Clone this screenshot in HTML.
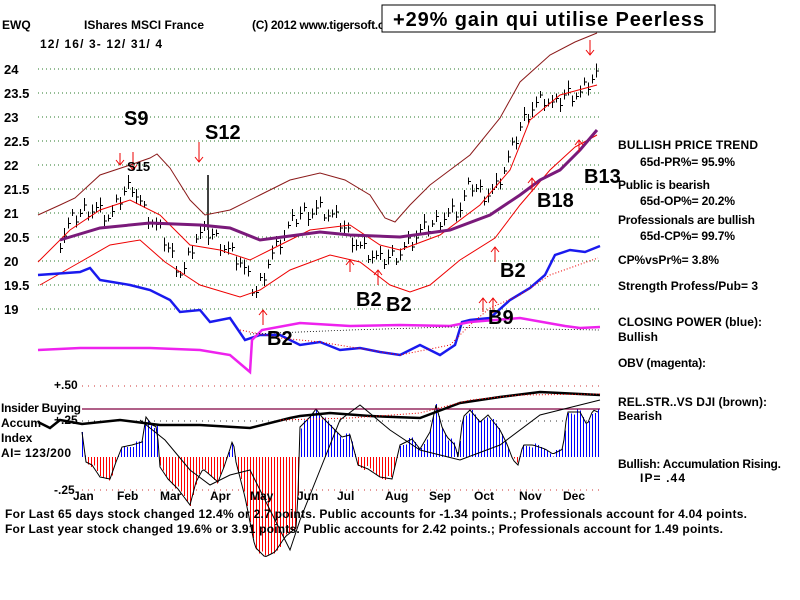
<!DOCTYPE html>
<html><head><meta charset="utf-8"><style>
body{margin:0;background:#fff;}
svg{display:block;font-family:"Liberation Sans",sans-serif;font-weight:bold;}
</style></head><body>
<svg id="s" width="800" height="600" viewBox="0 0 800 600" xmlns="http://www.w3.org/2000/svg">
<rect width="800" height="600" fill="#fff"/>
<g font-size="12" fill="#000">
<text x="2" y="29">EWQ</text>
<text x="84" y="29" textLength="120">IShares MSCI France</text>
<text x="252" y="29" textLength="150">(C) 2012 www.tigersoft.com</text>
<text x="40" y="48" textLength="122">12/ 16/ 3- 12/ 31/ 4</text>
</g>
<rect x="382" y="5" width="333" height="27" fill="#fff" stroke="#000" stroke-width="1"/>
<text x="393" y="26" font-size="20" fill="#000" textLength="311">+29% gain qui utilise Peerless</text>
<g id="grid" stroke="#2a7a2a" stroke-width="1" stroke-dasharray="1,3"></g>
<g font-size="13" fill="#000" id="ylab"></g>
<g id="plot"></g>
<g font-size="20" fill="#000">
<text x="124" y="125">S9</text><text x="205" y="139">S12</text>
<text x="127" y="171" font-size="13">S15</text>
<text x="356" y="306">B2</text><text x="386" y="311">B2</text>
<text x="267" y="345">B2</text><text x="488" y="324">B9</text>
<text x="500" y="277">B2</text><text x="537" y="207">B18</text><text x="584" y="183">B13</text>
</g>
<g font-size="12" fill="#000">
<text x="618" y="149" textLength="140">BULLISH PRICE TREND</text>
<text x="640" y="166" textLength="95">65d-PR%= 95.9%</text>
<text x="618" y="189" textLength="92">Public is bearish</text>
<text x="640" y="205" textLength="95">65d-OP%= 20.2%</text>
<text x="618" y="224" textLength="137">Professionals are bullish</text>
<text x="640" y="240" textLength="95">65d-CP%= 99.7%</text>
<text x="618" y="264" textLength="101">CP%vsPr%=  3.8%</text>
<text x="618" y="290" textLength="140">Strength Profess/Pub= 3</text>
<text x="618" y="326" textLength="144">CLOSING POWER (blue):</text>
<text x="618" y="341">Bullish</text>
<text x="618" y="367" textLength="88">OBV (magenta):</text>
<text x="618" y="406" textLength="149">REL.STR..VS DJI (brown):</text>
<text x="618" y="420">Bearish</text>
<text x="618" y="468" textLength="163">Bullish: Accumulation Rising.</text>
<text x="640" y="482" textLength="45">IP=  .44</text>
<text x="1" y="412" textLength="80">Insider Buying</text>
<text x="1" y="427">Accum</text>
<text x="1" y="442">Index</text>
<text x="1" y="457" textLength="70">AI= 123/200</text>
<text x="54" y="389">+.50</text>
<text x="54" y="424">+.25</text>
<text x="54" y="494">-.25</text>
<text x="5" y="518" textLength="742">For Last 65 days stock changed  12.4% or  2.7 points.  Public accounts for -1.34 points.;  Professionals account for  4.04 points.</text>
<text x="5" y="533" textLength="718">For Last year stock changed  19.6% or  3.91 points.  Public accounts for  2.42 points.;  Professionals account for  1.49 points.</text>
</g>
<g font-size="12" fill="#000" id="months"></g>
</svg>
<script>
var NS="http://www.w3.org/2000/svg",P=document.getElementById('plot');
function el(t,a,par){var e=document.createElementNS(NS,t);for(var k in a)e.setAttribute(k,a[k]);(par||P).appendChild(e);return e;}
function interp(pts,x){for(var i=0;i<pts.length-1;i++){if(x>=pts[i][0]&&x<=pts[i+1][0]){var t=(x-pts[i][0])/(pts[i+1][0]-pts[i][0]);return pts[i][1]+t*(pts[i+1][1]-pts[i][1]);}}return x<pts[0][0]?pts[0][1]:pts[pts.length-1][1];}
function line(pts,c,w,dash){var d="M"+pts.map(function(p){return p[0]+","+p[1]}).join("L");var a={d:d,fill:"none",stroke:c,"stroke-width":w};if(dash)a["stroke-dasharray"]=dash;el("path",a);}
var G=document.getElementById('grid'),YL=document.getElementById('ylab');
var labs=["24","23.5","23","22.5","22","21.5","21","20.5","20","19.5","19"];
for(var i=0;i<11;i++){var y=69+i*24;el("line",{x1:38,y1:y,x2:600,y2:y},G);var t=el("text",{x:4,y:y+5},YL);t.textContent=labs[i];}
el("line",{x1:82,y1:386,x2:600,y2:386,stroke:"#c33","stroke-dasharray":"1,5"},G);
el("line",{x1:82,y1:421,x2:600,y2:421,stroke:"#333","stroke-dasharray":"1,5"},G);
el("line",{x1:82,y1:490,x2:600,y2:490,stroke:"#c33","stroke-dasharray":"1,5"},G);
var M=[["Jan",73],["Feb",117],["Mar",160],["Apr",210],["May",250],["Jun",297],["Jul",337],["Aug",385],["Sep",429],["Oct",474],["Nov",519],["Dec",563]];
M.forEach(function(m){var t=el("text",{x:m[1],y:500},document.getElementById('months'));t.textContent=m[0];});
var H=[[82,25],[86,-5],[92,-8],[100,-20],[110,-22],[116,-5],[122,10],[132,12],[142,15],[146,40],[152,32],[157,30],[160,-10],[168,-22],[178,-32],[190,-48],[196,-25],[203,-12],[210,-18],[218,-25],[224,-10],[230,8],[233,18],[236,-5],[245,-40],[255,-90],[265,-100],[275,-95],[285,-80],[297,-70],[300,30],[310,40],[316,48],[322,40],[332,30],[342,20],[350,22],[358,-8],[368,-12],[380,-20],[392,-22],[400,12],[412,18],[420,8],[430,25],[436,52],[442,30],[447,20],[455,12],[458,0],[463,40],[470,47],[480,35],[488,42],[500,27],[507,13],[513,-3],[518,-8],[523,12],[533,12],[545,8],[553,3],[563,8],[567,45],[580,45],[587,32],[593,47],[598,45]];
for(var x=82;x<=599;x+=3){var v=interp(H,x)+((x*37)%7-3)*0.8;el("line",{x1:x+0.5,y1:457,x2:x+0.5,y2:457-v,stroke:v>=0?"#0000ff":"#ff0000","stroke-width":1,"shape-rendering":"crispEdges"});}
var hp=[];for(var x=82;x<=599;x+=2)hp.push([x,457-interp(H,x)]);line(hp,"#000",1);
el("line",{x1:82,y1:409,x2:600,y2:409,stroke:"#800040","stroke-width":1.2});
line([[38,422],[50,428],[60,420],[82,424],[120,420],[160,425],[200,425],[250,428],[290,418],[300,416],[330,413],[370,416],[420,418],[460,403],[500,397],[540,392],[560,393],[600,395]],"#000",2.5);
line([[280,420],[350,418],[420,413],[470,400],[520,395],[600,394]],"#e00",1,"1,2");
line([[140,420],[165,440],[190,470],[210,485],[230,475],[250,470],[270,510],[290,550],[300,520],[320,470],[340,420],[360,405],[390,430],[420,450],[460,460],[500,445],[540,415],[580,405],[600,400]],"#000",1);
var PR=[[38,20.0],[55,20.2],[70,20.8],[85,21.1],[95,21.1],[110,20.9],[125,21.5],[132,21.6],[145,21.0],[160,20.6],[170,20.2],[182,19.7],[195,20.5],[210,20.6],[225,20.3],[240,20.0],[255,19.3],[268,20.0],[285,20.6],[300,21.0],[320,21.1],[340,20.8],[360,20.3],[380,20.0],[400,20.2],[420,20.6],[440,20.9],[460,21.1],[470,21.6],[485,21.4],[495,21.5],[510,22.2],[520,22.8],[530,23.2],[545,23.4],[555,23.2],[565,23.5],[580,23.5],[595,23.9]];
function py(p){return 69+(24-p)*48;}
for(var x=60;x<=598;x+=4){var p=interp(PR,x),n=((x*53)%11-5)/30,h=7+((x*17)%9),c=py(p+n);
el("line",{x1:x+0.5,y1:c-h/2,x2:x+0.5,y2:c+h/2,stroke:"#000","stroke-width":1,"shape-rendering":"crispEdges"});el("line",{x1:x,y1:c+0.5,x2:x+3,y2:c+0.5,stroke:"#000","shape-rendering":"crispEdges"});}
el("line",{x1:208,y1:175,x2:208,y2:230,stroke:"#000","stroke-width":1.5});
line([[38,215],[60,205],[75,198],[100,175],[130,165],[150,158],[157,154],[170,168],[190,200],[205,215],[230,210],[260,195],[290,180],[320,173],[345,180],[370,195],[385,218],[395,222],[410,205],[430,185],[470,155],[500,118],[520,82],[550,55],[575,42],[597,33]],"#8b1a1a",1);
line([[38,262],[70,230],[100,210],[130,200],[160,215],[190,245],[220,250],[250,260],[280,245],[310,230],[350,225],[380,245],[400,250],[440,235],[480,205],[510,170],[530,120],[560,95],[597,85]],"#e00",1);
line([[40,285],[75,265],[110,245],[140,240],[165,262],[200,285],[240,297],[260,290],[290,270],[330,255],[360,262],[390,285],[410,292],[430,285],[460,260],[495,238],[520,205],[550,170],[575,147],[597,135]],"#e00",1);
line([[60,240],[100,228],[150,223],[200,225],[230,228],[260,240],[290,236],[320,232],[350,235],[400,237],[450,230],[490,215],[520,195],[540,180],[560,170],[580,150],[597,130]],"#7a1a7a",3);
line([[38,275],[80,272],[90,268],[100,280],[130,285],[150,290],[170,300],[180,312],[200,310],[210,322],[230,318],[245,340],[260,335],[280,335],[300,345],[320,342],[340,350],[360,348],[380,352],[400,355],[420,345],[440,355],[455,345],[462,322],[470,320],[490,318],[510,300],[530,288],[545,275],[555,255],[570,250],[585,252],[600,246]],"#1a1aee",2.5);
line([[240,330],[280,338],[320,342],[400,355],[450,345],[470,325],[490,308],[520,295],[550,275],[598,258]],"#e00",1,"1,2");
line([[38,350],[80,348],[150,348],[200,350],[230,355],[250,372],[252,340],[262,330],[300,323],[350,326],[400,325],[450,326],[470,322],[520,318],[565,326],[580,328],[600,327]],"#ee22ee",2.5);
line([[250,334],[350,330],[450,327],[540,329],[600,330]],"#000",0.8,"1,2");
function arr(x,y1,y2){el("line",{x1:x,y1:y1,x2:x,y2:y2,stroke:"#e00"});var d=y2>y1?-5:5;el("path",{d:"M"+(x-4)+","+(y2+d)+"L"+x+","+y2+"L"+(x+4)+","+(y2+d),fill:"none",stroke:"#e00"});}
arr(120,153,165);arr(133,152,170);arr(199,142,162);arr(590,40,55);
arr(263,325,310);arr(350,272,260);arr(378,285,270);arr(483,312,298);arr(493,313,298);arr(495,262,247);arr(532,192,178);arr(579,152,140);
</script>
</body></html>
